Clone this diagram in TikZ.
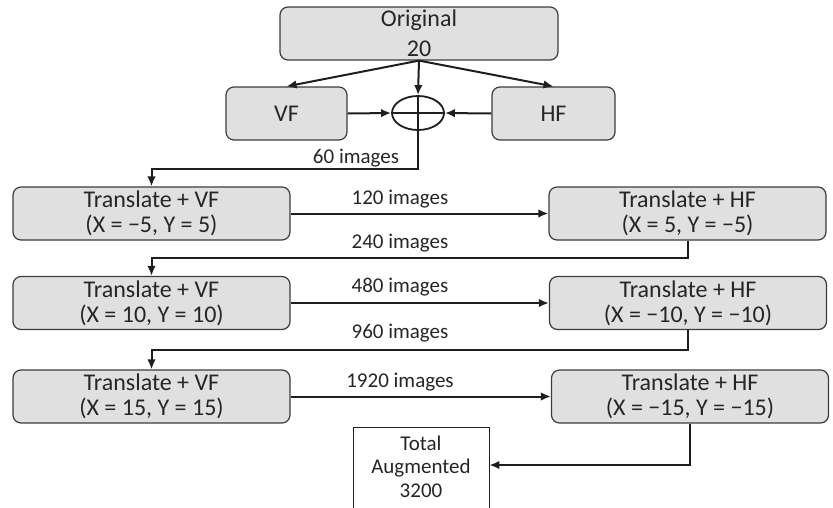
\documentclass[tikz,border=0pt]{standalone}
\usepackage{fontspec}
\setmainfont{Carlito}
\usetikzlibrary{arrows.meta,shapes.geometric}
\definecolor{boxfill}{HTML}{E0E0E0}
\definecolor{boxline}{HTML}{3C3C3C}
\definecolor{lne}{HTML}{1E1E1E}
\definecolor{txt}{HTML}{262626}

\begin{document}
\begin{tikzpicture}[x=1pt,y=1pt,yscale=-1,xscale=1,
  box/.style={draw=boxline,fill=boxfill,rounded corners=8pt,line width=1.2pt,text=txt,align=center,inner sep=0pt,minimum height=53pt,font=\fontsize{24}{25}\selectfont},
  conn/.style={draw=lne,line width=2pt,-{Latex[length=10pt,width=8.5pt]}},
  cnt/.style={text=txt,inner sep=0pt,font=\fontsize{21}{25}\selectfont}]
\useasboundingbox (0,0) rectangle (833,507);

%Rounded Rect [top]
\node[box,minimum width=278pt,font=\fontsize{24}{30}\selectfont] (orig) at (419,33.5) {Original\\20};
%Rounded Rect [flips]
\node[box,minimum width=121pt] (vf) at (286.5,113.5) {VF};
\node[box,minimum width=123pt] (hf) at (553.5,113.5) {HF};
%Ellipse [sum]
\node[ellipse,draw=lne,line width=1.8pt,minimum width=52pt,minimum height=34pt,inner sep=0pt] (sum) at (418,113) {};

%Rounded Rect [row 1]
\node[box,minimum width=277pt] (tvfa) at (151.5,213.5) {Translate + VF\\(X = −5, Y = 5)};
\node[box,minimum width=277pt] (thfa) at (687.5,213.5) {Translate + HF\\(X = 5, Y = −5)};
%Rounded Rect [row 2]
\node[box,minimum width=277pt] (tvfb) at (151.5,303) {Translate + VF\\(X = 10, Y = 10)};
\node[box,minimum width=277pt] (thfb) at (688,303) {Translate + HF\\(X = −10, Y = −10)};
%Rounded Rect [row 3]
\node[box,minimum width=277pt] (tvfc) at (151.5,396.5) {Translate + VF\\(X = 15, Y = 15)};
\node[box,minimum width=277pt] (thfc) at (690,396.5) {Translate + HF\\(X = −15, Y = −15)};
%Rect [total]
\node[draw=lne,line width=0.8pt,fill=white,minimum width=136pt,minimum height=102pt,anchor=north,align=center,text=txt,font=\fontsize{21}{23.5}\selectfont] (tot) at (421,427) {Total\\Augmented\\3200\\\mbox{}};

%Arrows [top]
\draw[conn] (orig.south) -- (vf.north);
\draw[conn] (orig.south) -- (hf.north);
\draw[conn] (orig.south) -- (sum.north);
\draw[conn] (vf.east) -- (sum.west);
\draw[conn] (hf.west) -- (sum.east);
\draw[lne,line width=1.8pt] (sum.west) -- (sum.east);
\draw[conn] (sum.north) -- ++(0,74) -| (tvfa.north);

%Arrows [rows]
\draw[conn] (tvfa.east) -- (thfa.west);
\draw[conn] (thfa.south) -- ++(0,17) -| (tvfb.north);
\draw[conn] (tvfb.east) -- (thfb.west);
\draw[conn] (thfb.south) -- ++(0,19.5) -| (tvfc.north);
\draw[conn] (tvfc.east) -- (thfc.west);
\draw[conn] (thfc.south) |- ([yshift=38pt]tot.north east);

% Text Node
\node[cnt] (l60) at (356,158) {60 images};
% Text Node
\node[cnt] (l120) at (400,199) {120 images};
% Text Node
\node[cnt] (l240) at (400,243) {240 images};
% Text Node
\node[cnt] (l480) at (400,287) {480 images};
% Text Node
\node[cnt] (l960) at (400,333) {960 images};
% Text Node
\node[cnt] (l1920) at (400,382) {1920 images};

\end{tikzpicture}
\end{document}
